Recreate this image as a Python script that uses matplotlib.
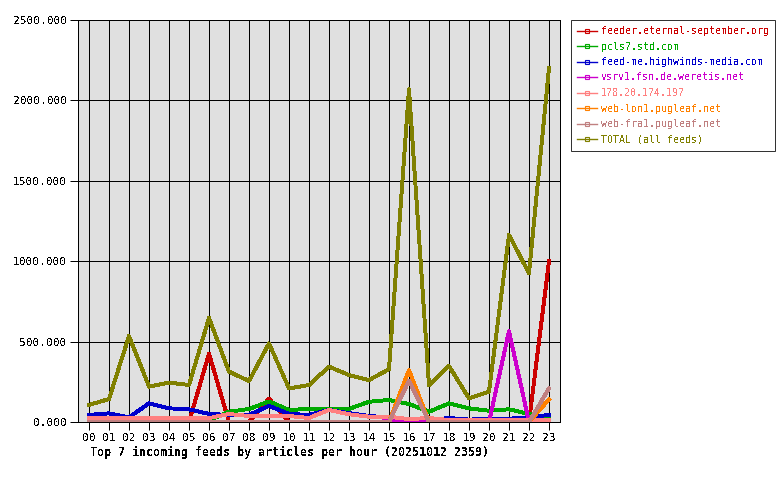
import matplotlib
matplotlib.use("Agg")
from matplotlib import pyplot as plt
from matplotlib.lines import Line2D
from matplotlib.ticker import FormatStrFormatter

plt.rcParams['font.family'] = 'DejaVu Sans Mono'
plt.rcParams['text.antialiased'] = False

# heures et séries
hours = ["%02d" % h for h in range(24)]
feeds = ["feeder.eternal-september.org", "pcls7.std.com", "feed-me.highwinds-media.com",
         "vsrv1.fsn.de.weretis.net", "178.20.174.197", "web-lon1.pugleaf.net",
         "web-fra1.pugleaf.net", "TOTAL (all feeds)"]
colors = ["#cc0000", "#00aa00", "#0000cc", "#cc00cc", "#ff8080", "#ff8000", "#c08080", "#808000"]

eternal = [0, 0, 0, 0, 0, 0, 425, 0, 0, 145, 0, 0, 0, 0, 0, 0, 0, 0, 0, 0, 0, 0, 0, 1000]
pcls7 = [10, 10, 10, 10, 10, 10, 10, 64, 81, 128, 75, 81, 79, 81, 126, 137, 112, 64, 116, 85, 70, 79, 50, 30]
highwinds = [44, 54, 29, 116, 85, 79, 50, 44, 44, 100, 50, 44, 75, 55, 37, 29, 12, 12, 25, 15, 20, 20, 30, 44]
weretis = [0, 0, 0, 0, 0, 0, 0, 0, 0, 0, 0, 0, 0, 0, 0, 5, 0, 0, 0, 0, 0, 565, 0, 0]
ip178 = [23, 24, 24, 24, 24, 24, 24, 50, 37, 37, 37, 25, 75, 48, 33, 33, 18, 25, 12, 12, 12, 12, 12, 12]
lon1 = [0, 0, 0, 0, 0, 0, 0, 0, 0, 0, 0, 0, 0, 0, 0, 0, 323, 0, 0, 0, 0, 0, 0, 141]
fra1 = [0, 0, 0, 0, 0, 0, 0, 0, 0, 0, 0, 0, 0, 0, 0, 0, 258, 0, 0, 0, 0, 0, 0, 209]
total = [106, 143, 535, 220, 245, 230, 647, 313, 255, 489, 209, 230, 344, 292, 261, 328,
         2069, 230, 348, 147, 189, 1163, 925, 2200]

series = [eternal, pcls7, highwinds, weretis, ip178, lon1, fra1, total]

fig = plt.figure(figsize=(7.8, 4.8), dpi=100)
ax = fig.add_axes([78/780, 1 - 422/480, (560-78)/780, (422-20)/480])
ax.set_facecolor("#e0e0e0")

x = list(range(24))
for vals, c in zip(series, colors):
    ax.plot(x, vals, color=c, lw=2.1, antialiased=False)

ax.set_xlim(-0.55, 23.55)
ax.set_ylim(0, 2500)
ax.set_xticks(x)
ax.set_xticklabels(hours)
ax.set_yticks([0, 500, 1000, 1500, 2000, 2500])
ax.yaxis.set_major_formatter(FormatStrFormatter('%.3f'))
ax.tick_params(axis='both', labelsize=8, length=6, width=0.72, color='black', pad=2)
ax.grid(True, color='black', lw=0.72)
ax.set_axisbelow(True)
for s in ax.spines.values():
    s.set_linewidth(0.72)

fig.text(90/780, 1 - 452/480, "Top 7 incoming feeds by articles per hour (20251012 2359)",
         fontsize=8.4, fontweight='bold', va='center', ha='left')

handles = [Line2D([], [], color=c, lw=1, marker='s', markersize=2.5,
                  markerfacecolor='none', markeredgewidth=0.8) for c in colors]
leg = fig.legend(handles, feeds, loc='upper left', bbox_to_anchor=(571/780, 1 - 20/480),
                 borderaxespad=0, fontsize=7.2, frameon=True, fancybox=False,
                 edgecolor='black', labelspacing=0.55, handlelength=2.0,
                 handletextpad=0.4, borderpad=0.6)
leg.get_frame().set_linewidth(0.72)
for t, c in zip(leg.get_texts(), colors):
    t.set_color(c)

fig.savefig("out.png", dpi=100)
